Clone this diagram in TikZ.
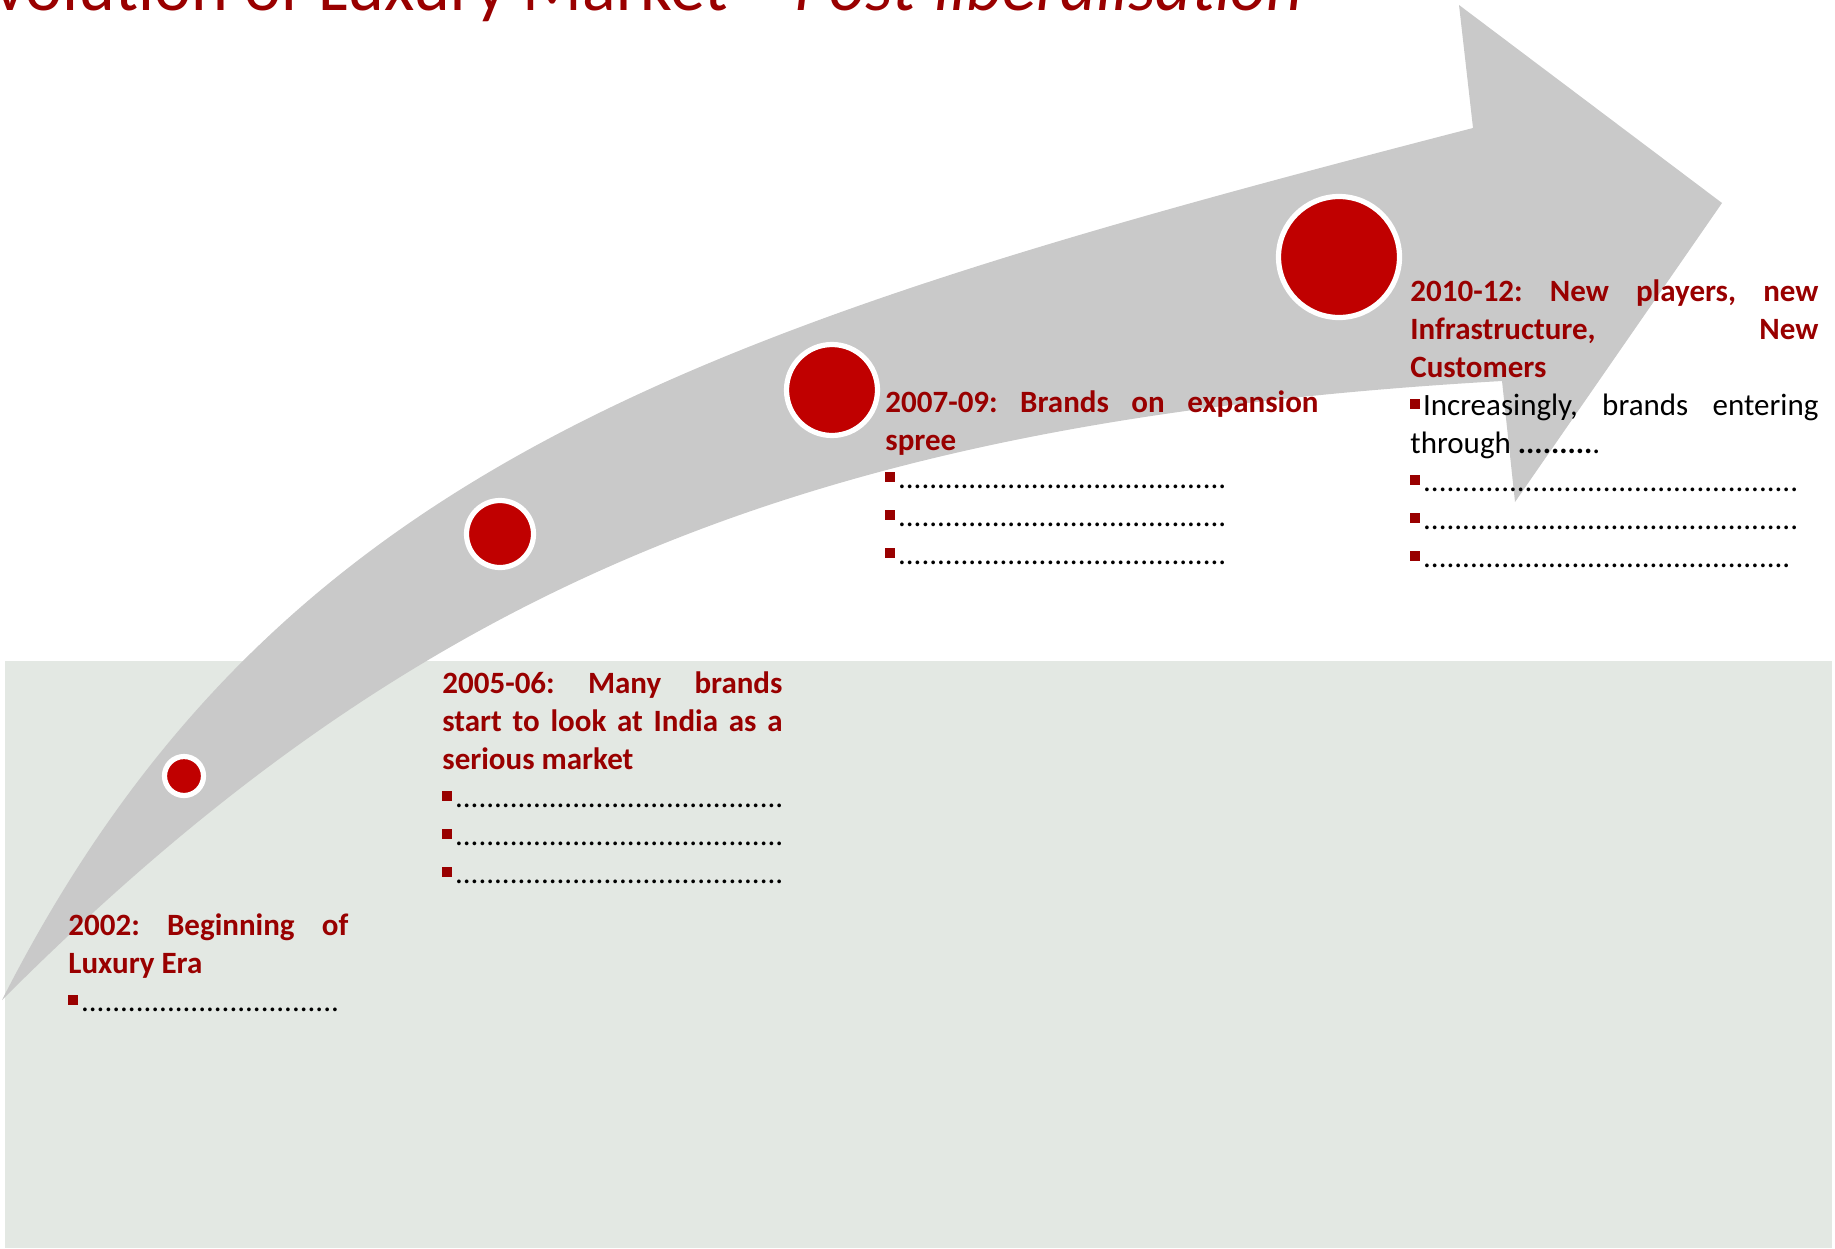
\documentclass[tikz,border=0pt]{standalone}
\usepackage{fontspec}
\setmainfont{Carlito}
\usepackage{tikz}
\usetikzlibrary{calc}

\definecolor{headred}{RGB}{153,0,0}
\definecolor{dotred}{RGB}{192,0,0}
\definecolor{arrowgrey}{RGB}{201,201,201}
\definecolor{panelgrey}{RGB}{227,232,227}

% small square bullet and rows of dots for the empty list items
\newcommand{\sqbullet}{\hspace{0.07em}{\color{headred}\rule[0.2em]{0.31em}{0.31em}}\hspace{0.1em}}
\newcommand{\leaderdots}[1]{\foreach \k in {1,...,#1}{.}}

\frenchspacing
\tolerance=10000
\hbadness=10000
\hyphenpenalty=10000

\begin{document}
\begin{tikzpicture}[x=0.5pt, y=-0.5pt,
        milestone/.style={circle, fill=dotred, draw=white, line width=2.6pt, inner sep=0pt},
        era/.style={anchor=base west, inner sep=0pt, align=justify, font=\fontsize{15.5}{19}\selectfont},
        title/.style={anchor=base east, inner sep=0pt, text=headred, font=\fontsize{35}{40}\selectfont}
    ]
    \useasboundingbox (0,0) rectangle (1835,1248);

    % lower panel
    \fill[panelgrey] (5,661) rectangle (1832,1248);

    % the curved arrow
    \fill[arrowgrey] (2,1000) .. controls (274,465) and (699,328) .. (1473,128)
        -- (1459,5) -- (1722,203) -- (1515,502) -- (1502,381)
        .. controls (803,421) and (412,590) .. cycle;

    % milestones along the arrow, growing with time
    \node[milestone, minimum size=19.5pt] (m2002) at (184,776) {};
    \node[milestone, minimum size=33.5pt] (m2005) at (500,534) {};
    \node[milestone, minimum size=45.5pt] (m2007) at (832,390) {};
    \node[milestone, minimum size=60.5pt] (m2010) at (1339,257) {};

    % title, cut at the top edge
    \node[title] (heading) at (1303,10) {Evolution of Luxury Market – \textit{Post-liberalisation}};

    % text for each period
    \node[era, text width=140pt] (t2002) at (68,935) {%
        {\color{headred}\bfseries 2002: Beginning of\linebreak Luxury Era}\\
        \sqbullet\leaderdots{33}};

    \node[era, text width=170pt] (t2005) at (442,693) {%
        {\color{headred}\bfseries 2005-06: Many brands\linebreak start to look at India as a\linebreak serious market}\\
        \sqbullet\leaderdots{42}\\
        \sqbullet\leaderdots{42}\\
        \sqbullet\leaderdots{42}};

    \node[era, text width=216.5pt] (t2007) at (885,412) {%
        {\color{headred}\bfseries 2007-09: Brands on expansion\linebreak spree}\\
        \sqbullet\leaderdots{42}\\
        \sqbullet\leaderdots{42}\\
        \sqbullet\leaderdots{42}};

    \node[era, text width=204pt] (t2010) at (1410,301) {%
        {\color{headred}\bfseries 2010-12: New players, new\linebreak Infrastructure, New\linebreak Customers}\\
        \sqbullet Increasingly, brands entering\linebreak through \textbf{.........}.\\
        \sqbullet\leaderdots{48}\\
        \sqbullet\leaderdots{48}\\
        \sqbullet\leaderdots{47}};
\end{tikzpicture}
\end{document}
